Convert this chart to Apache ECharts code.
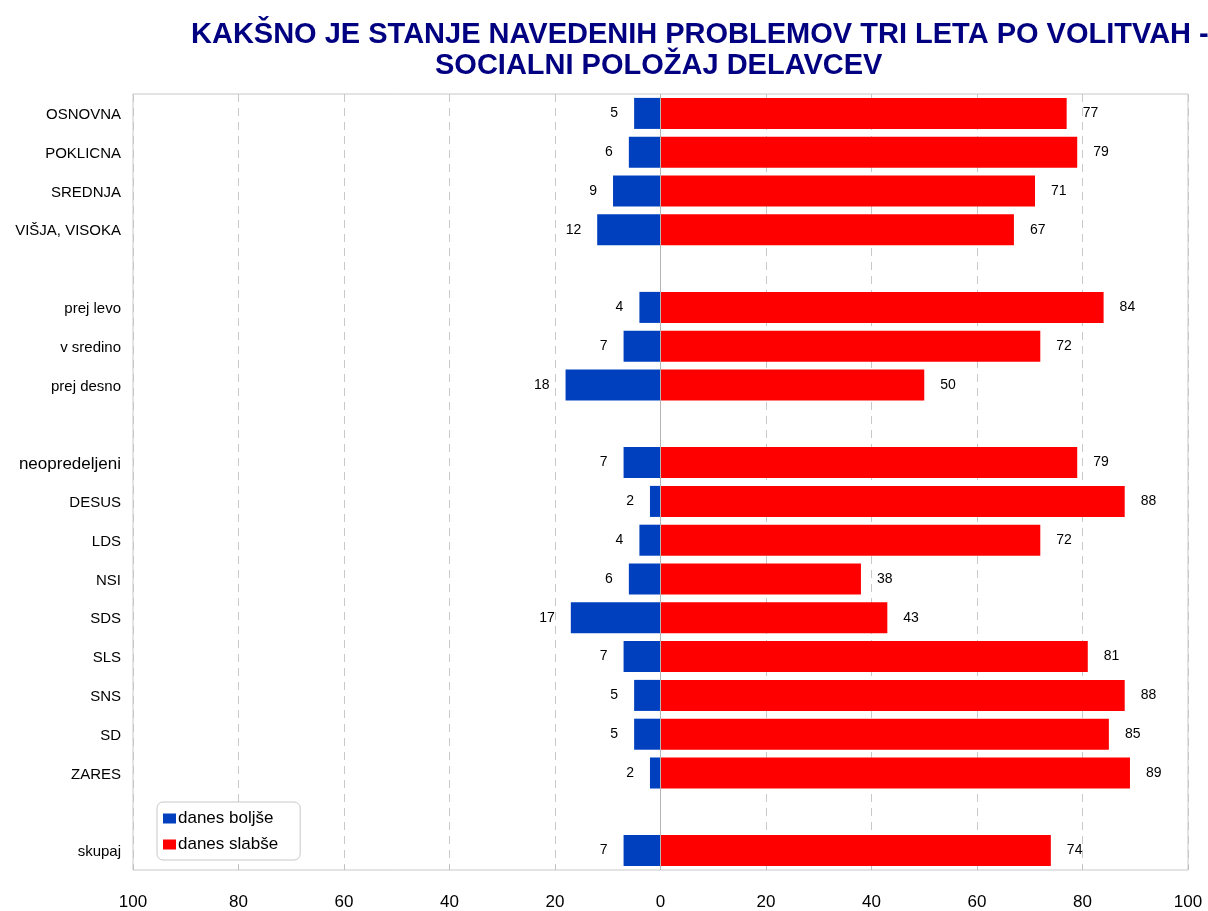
<!DOCTYPE html>
<html>
<head>
<meta charset="utf-8">
<script src="https://cdn.jsdelivr.net/npm/echarts@6/dist/echarts.min.js"></script>
<style>
  html, body { margin: 0; padding: 0; background: #fff; }
  #main { width: 1208px; height: 911px; }
</style>
</head>
<body>
<div id="main"></div>
<script>
	// kategorije (prazne vrstice so presledki)
	var categories = ['OSNOVNA', 'POKLICNA', 'SREDNJA', 'VIŠJA, VISOKA', ' ',
		'prej levo', 'v sredino', 'prej desno', '  ',
		'neopredeljeni', 'DESUS', 'LDS', 'NSI', 'SDS', 'SLS', 'SNS', 'SD', 'ZARES', '   ',
		'skupaj'];
	var bolje  = [5, 6, 9, 12, null, 4, 7, 18, null, 7, 2, 4, 6, 17, 7, 5, 5, 2, null, 7];
	var slabse = [77, 79, 71, 67, null, 84, 72, 50, null, 79, 88, 72, 38, 43, 81, 88, 85, 89, null, 74];
	var xTicks = [-100, -80, -60, -40, -20, 0, 20, 40, 60, 80, 100];

	var myChart = echarts.init(document.getElementById('main'));

	var option = {
		backgroundColor: '#fff',
		animation: false,
		title: [
			{
				text: 'KAKŠNO JE STANJE NAVEDENIH PROBLEMOV TRI LETA PO VOLITVAH -',
				left: 186, top: 15,
				textStyle: {fontFamily: 'Liberation Sans, Arial', fontWeight: 'bold', fontSize: 29, color: '#000080'}
			},
			{
				text: 'SOCIALNI POLOŽAJ DELAVCEV',
				left: 430, top: 46,
				textStyle: {fontFamily: 'Liberation Sans, Arial', fontWeight: 'bold', fontSize: 29, color: '#000080'}
			}
		],
		legend: {
			orient: 'vertical',
			left: 157, top: 802,
			data: ['danes boljše', 'danes slabše'],
			icon: 'rect',
			itemWidth: 13, itemHeight: 10, itemGap: 9, itemStyle: {borderWidth: 0},
			backgroundColor: '#fff',
			borderColor: '#c8c8c8', borderWidth: 1, borderRadius: 6,
			padding: [8, 22, 7, 6],
			textStyle: {fontFamily: 'Liberation Sans, Arial', fontSize: 17, color: '#000', padding: [0, 0, 0, -3]}
		},
		grid: {
			left: 133, right: 20, top: 94, bottom: 39,
			show: true, borderColor: '#c8c8c8', borderWidth: 1
		},
		xAxis: {
			type: 'value',
			min: xTicks[0], max: xTicks[xTicks.length - 1], interval: 20,
			axisLine: {show: false},
			axisTick: {show: true, inside: true, length: 5, lineStyle: {color: '#c0c0c0'}},
			axisLabel: {
				margin: 24, fontSize: 17, color: '#000', fontFamily: 'Liberation Sans, Arial',
				formatter: function (v) { return Math.abs(v); }
			},
			splitLine: {show: true, lineStyle: {color: '#c8c8c8', type: [8, 6], width: 1}}
		},
		yAxis: {
			type: 'category',
			inverse: true,
			data: categories,
			axisLine: {show: false, onZero: false},
			axisTick: {show: false},
			axisLabel: {
				margin: 12, fontSize: 15, color: '#000', fontFamily: 'Liberation Sans, Arial',
				padding: [3, 0, 0, 0],
				formatter: function (v) { return v === 'neopredeljeni' ? '{big|' + v + '}' : v; },
				rich: {big: {fontSize: 17, fontFamily: 'Liberation Sans, Arial', color: '#000'}}
			}
		},
		series: [
			{
				name: 'danes boljše',
				type: 'bar',
				stack: 'a',
				barCategoryGap: '20%',
				data: bolje.map(function (v) { return v == null ? null : -v; }),
				itemStyle: {color: '#0040BF'},
				label: {
					show: true, position: 'left', distance: 16,
					fontSize: 14, color: '#000', fontFamily: 'Liberation Sans, Arial',
					padding: [3, 0, 0, 0],
					formatter: function (p) { return Math.abs(p.value); }
				},
				markLine: {
					silent: true, symbol: 'none', label: {show: false},
					lineStyle: {color: '#b4b4b4', type: 'solid', width: 1},
					data: [{xAxis: 0}]
				}
			},
			{
				name: 'danes slabše',
				type: 'bar',
				stack: 'a',
				barCategoryGap: '20%',
				data: slabse,
				itemStyle: {color: '#FF0000'},
				label: {
					show: true, position: 'right', distance: 16,
					fontSize: 14, color: '#000', fontFamily: 'Liberation Sans, Arial',
					padding: [3, 0, 0, 0]
				}
			}
		]
	};

	myChart.setOption(option);
</script>
</body>
</html>
